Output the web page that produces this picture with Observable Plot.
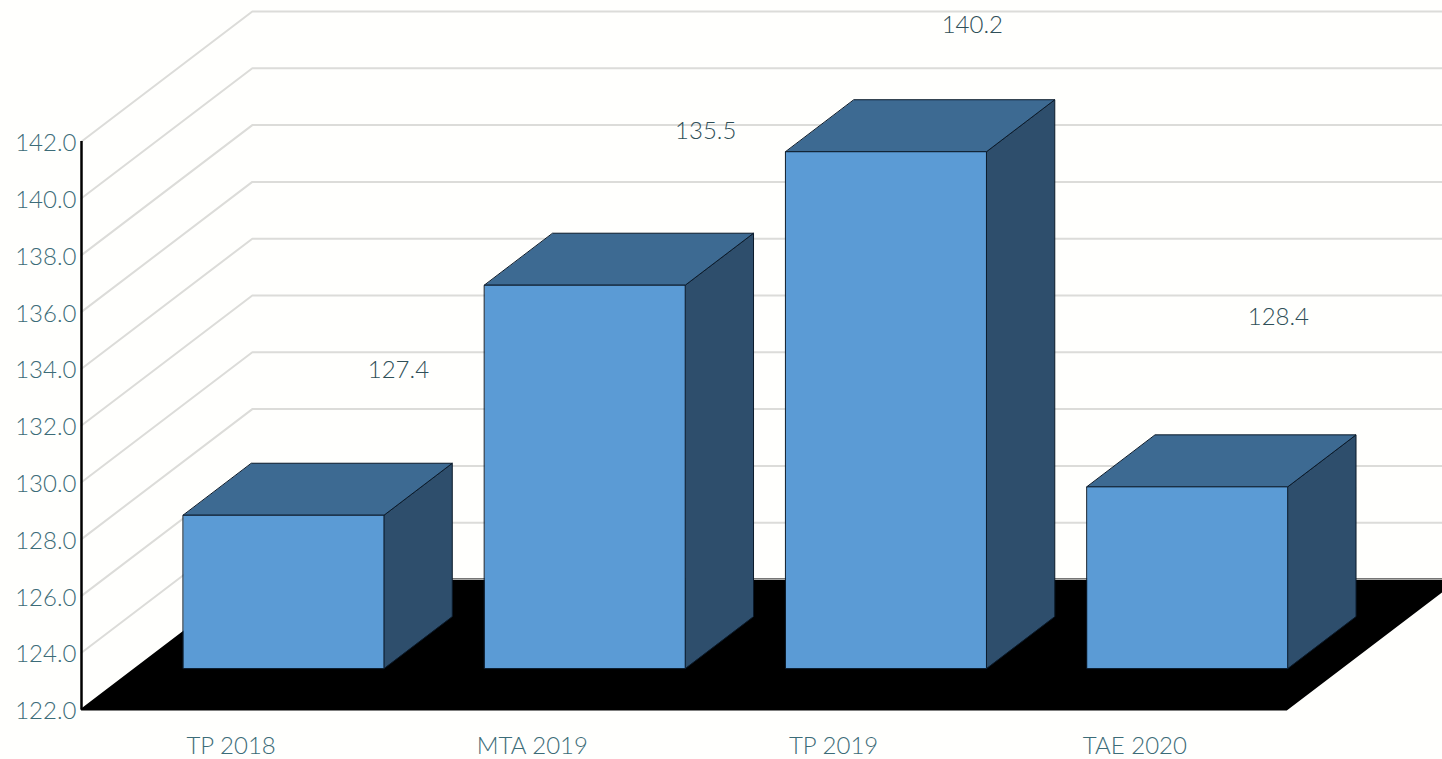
<!DOCTYPE html>
<html>
<head>
<meta charset="utf-8">
<style>
html,body{margin:0;padding:0;background:#fffffd;overflow:hidden}
svg{display:block}
</style>
<script src="https://cdn.jsdelivr.net/npm/d3@7"></script>
<script src="https://cdn.jsdelivr.net/npm/@observablehq/plot@0.6"></script>
</head>
<body>
<div id="chart"></div>
<script>
const categories = ["TP 2018", "MTA 2019", "TP 2019", "TAE 2020"];
const values = [127.4, 135.5, 140.2, 128.4];
const yTicks = [122,124,126,128,130,132,134,136,138,140,142];
const labelShiftX = [1.052, 1.072, 0.957, 0.973];
const labelShiftY = [6.55, 6.87, 5.9, 7.4];

const yBase = 122, yTop = 142;
const depthX = 0.567, depthY = 4.577;
const barStart = 0.338, barWidth = 0.666;
const depthBack = 0.4;
const lift = 1.44; // the front of a bar stands this far above the floor's front edge, in value units

const project = (x, v, d) => ({x: x + d * depthX, y: v + d * depthY});

const gridRows = yTicks.flatMap(v => [
  {...project(0, v, 0), v},
  {...project(0, v, 1), v},
  {...project(4.6, v, 1), v}
]);
const floorRows = [project(0, yBase, 0), project(4, yBase, 0), project(4, yBase, 1), project(0, yBase, 1)];
const floorBack = [project(0, yBase, 1), project(4.6, yBase, 1)];

const faces = categories.flatMap((c, i) => {
  const x0 = i + barStart, x1 = x0 + barWidth, t = values[i] + lift, b = yBase + lift;
  const dz = depthBack;
  const P = project;
  return [
    ["side", [P(x1,b,0), P(x1,b,dz), P(x1,t,dz), P(x1,t,0)]],
    ["top", [P(x0,t,0), P(x1,t,0), P(x1,t,dz), P(x0,t,dz)]],
    ["front", [P(x0,b,0), P(x1,b,0), P(x1,t,0), P(x0,t,0)]]
  ].flatMap(([face, pts]) => pts.map(p => ({...p, face, key: c + face})));
});
const face = n => faces.filter(f => f.face === n);

const labels = categories.map((c, i) => ({x: i + labelShiftX[i], y: values[i] + labelShiftY[i], t: values[i].toFixed(1)}));

const faceMark = (n, fill) => Plot.line(face(n), {x:"x", y:"y", z:"key", fill, stroke:"#0b1a2a", strokeWidth:1, curve:"linear-closed"});

const chart = Plot.plot({
  width: 1442,
  height: 759,
  marginLeft: 81, marginRight: 156, marginTop: 141, marginBottom: 50,
  style: {background:"#fffffd", fontFamily:"Lato, sans-serif"},
  x: {domain:[0,4], range:[81,1286], label:null},
  y: {domain:[yBase,yTop], range:[709,141], label:null},
  marks: [
    Plot.line(gridRows, {x:"x", y:"y", z:"v", stroke:"#dcdcd9", strokeWidth:2}),
    Plot.line(floorRows, {x:"x", y:"y", fill:"#000", stroke:"#000", strokeWidth:2, curve:"linear-closed"}),
    Plot.line(floorBack, {x:"x", y:"y", stroke:"#a8a8a6", strokeWidth:1}),
    Plot.ruleX([0], {y1:yBase, y2:yTop, stroke:"#000", strokeWidth:2.5}),
    faceMark("side", "#2e4e6c"),
    faceMark("top", "#3d6a92"),
    faceMark("front", "#5b9bd5"),
    Plot.axisY({ticks:yTicks, tickFormat:d3.format(".1f"), tickSize:0, tickPadding:5, fontSize:24, fontWeight:300, color:"#3c6c78", label:null, dy:2}),
    Plot.axisX({ticks:categories.map((_,i)=>i+0.5), tickFormat:t=>categories[t-0.5], tickSize:0, tickPadding:27, fontSize:24, fontWeight:300, color:"#3c6c78", label:null, dx:-1}),
    Plot.text(labels, {x:"x", y:"y", text:"t", fill:"#2f4f58", fontSize:24, fontWeight:300})
  ]
});
document.getElementById("chart").appendChild(chart);
</script>
</body>
</html>
